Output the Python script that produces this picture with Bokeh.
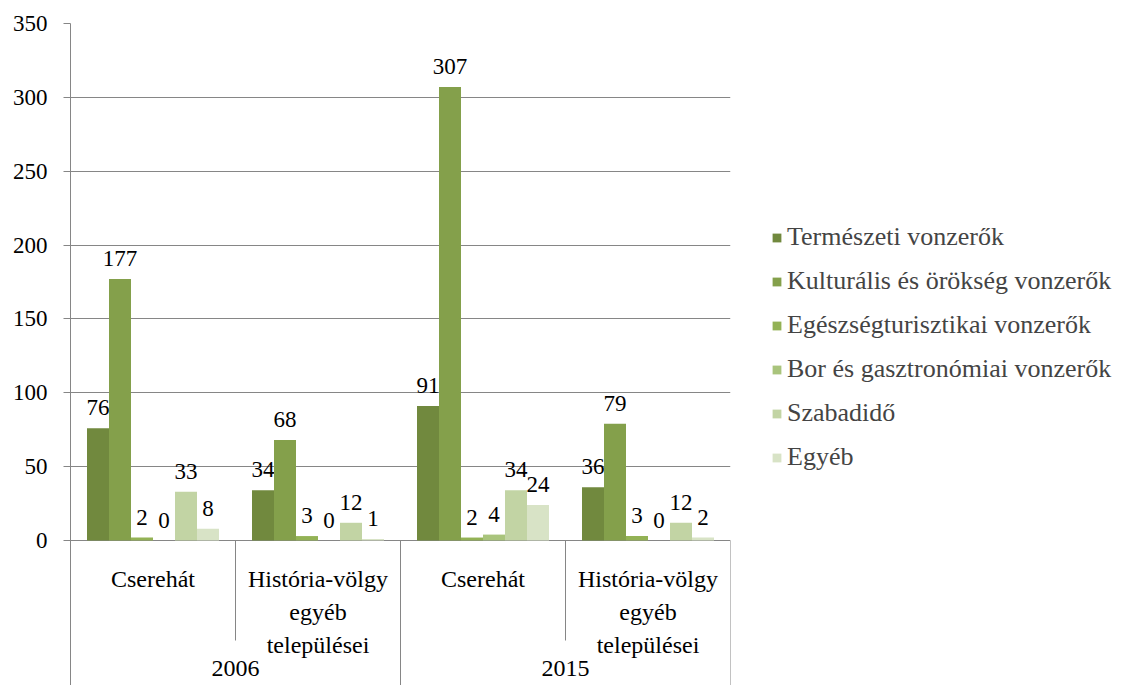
from bokeh.plotting import figure
from bokeh.models import FactorRange, ColumnDataSource, Legend, LegendItem, FixedTicker
from bokeh.transform import dodge
from bokeh.core.properties import value
from bokeh.embed import file_html
from bokeh.resources import INLINE

years = ["2006", "2006", "2015", "2015"]
regions = ["Cserehát", "História-völgy\negyéb\ntelepülései", "Cserehát", "História-völgy\negyéb\ntelepülései"]
series = ["Természeti vonzerők", "Kulturális és örökség vonzerők", "Egészségturisztikai vonzerők",
          "Bor és gasztronómiai vonzerők", "Szabadidő", "Egyéb"]
termeszeti = [76, 34, 91, 36]
kulturalis = [177, 68, 307, 79]
egeszseg = [2, 3, 2, 3]
bor = [0, 0, 4, 0]
szabadido = [33, 12, 34, 12]
egyeb = [8, 1, 24, 2]
y_ticks = [0, 50, 100, 150, 200, 250, 300, 350]
colors = ["#71893E", "#84A04B", "#93B255", "#A9C47C", "#C2D4A4", "#D8E3C6"]

values_list = [termeszeti, kulturalis, egeszseg, bor, szabadido, egyeb]
factors = list(zip(years, regions))

FONT = "'Liberation Serif', 'DejaVu Serif', 'Noto Serif', 'Times New Roman', Times, serif"
GRAY = "#868686"
H = 685
PX_PER_UNIT = 517.0 / 350.0
y_bottom = -145.0 / PX_PER_UNIT

p = figure(x_range=FactorRange(*factors, group_padding=0, factor_padding=0, range_padding=0),
           y_range=(y_bottom, 350), frame_width=660, height=H, output_backend="svg", toolbar_location=None,
           x_axis_location=None,
           min_border_left=70, min_border_top=23, min_border_right=0, min_border_bottom=0)
p.outline_line_color = None
p.background_fill_color = "white"

data = {"x": factors}
for i, v in enumerate(values_list):
    data[f"v{i}"] = v
    data[f"t{i}"] = [str(a) for a in v]
src = ColumnDataSource(data)

bw = 22.0 / 165.0
offsets = [(i - 2.5) * bw for i in range(6)]
renderers = []
for i in range(6):
    r = p.vbar(x=dodge("x", offsets[i], range=p.x_range), top=f"v{i}", width=bw, source=src,
               fill_color=colors[i], line_color=None)
    renderers.append(r)
    p.text(x=dodge("x", offsets[i], range=p.x_range), y=f"v{i}", text=f"t{i}", source=src,
           text_align="center", text_baseline="bottom", y_offset=-13,
           text_font=value(FONT), text_font_size="23px", text_color="#000000")

# category axis drawn in the frame below zero
p.text(x="x", y=-17.0, text="r", source=ColumnDataSource({"x": factors, "r": regions}),
       text_align="center", text_baseline="top", text_line_height=1.28,
       text_font=value(FONT), text_font_size="24px", text_color="#000000")
grp_src = ColumnDataSource({"x": [factors[0], factors[2]], "g": [years[0], years[2]]})
p.text(x=dodge("x", 0.5, range=p.x_range), y=-86.7, text="g", source=grp_src,
       text_align="center", text_baseline="middle",
       text_font=value(FONT), text_font_size="24px", text_color="#000000")
sub_sep = ColumnDataSource({"x": [factors[0], factors[2]]})
p.segment(x0=dodge("x", 0.5, range=p.x_range), y0=0, x1=dodge("x", 0.5, range=p.x_range), y1=-67.7,
          source=sub_sep, line_color=GRAY, line_width=1)
grp_sep = ColumnDataSource({"x": [factors[1], factors[3]]})
p.segment(x0=dodge("x", 0.5, range=p.x_range), y0=0, x1=dodge("x", 0.5, range=p.x_range), y1=y_bottom,
          source=grp_sep, line_color=GRAY, line_width=1)

legend = Legend(items=[LegendItem(label=series[i], renderers=[renderers[i]]) for i in range(6)],
                location=(41, 213), border_line_color=None, background_fill_alpha=0,
                label_text_font=FONT, label_text_font_size="26px", glyph_width=11, glyph_height=11,
                label_height=26, spacing=14, label_standoff=5, padding=0, margin=20)
p.add_layout(legend, "right")

p.xgrid.grid_line_color = None
p.yaxis.ticker = FixedTicker(ticks=y_ticks)
p.ygrid.grid_line_color = GRAY
p.ygrid.grid_line_width = 1
p.yaxis.axis_line_color = GRAY
p.yaxis.major_tick_line_color = GRAY
p.yaxis.major_tick_out = 7
p.yaxis.major_tick_in = 0
p.yaxis.minor_tick_line_color = None
p.yaxis.major_label_text_font = FONT
p.yaxis.major_label_text_font_size = "23px"
p.yaxis.major_label_text_color = "#000000"
p.yaxis.major_label_standoff = 16

open("out.html", "w").write(file_html(p, INLINE))
